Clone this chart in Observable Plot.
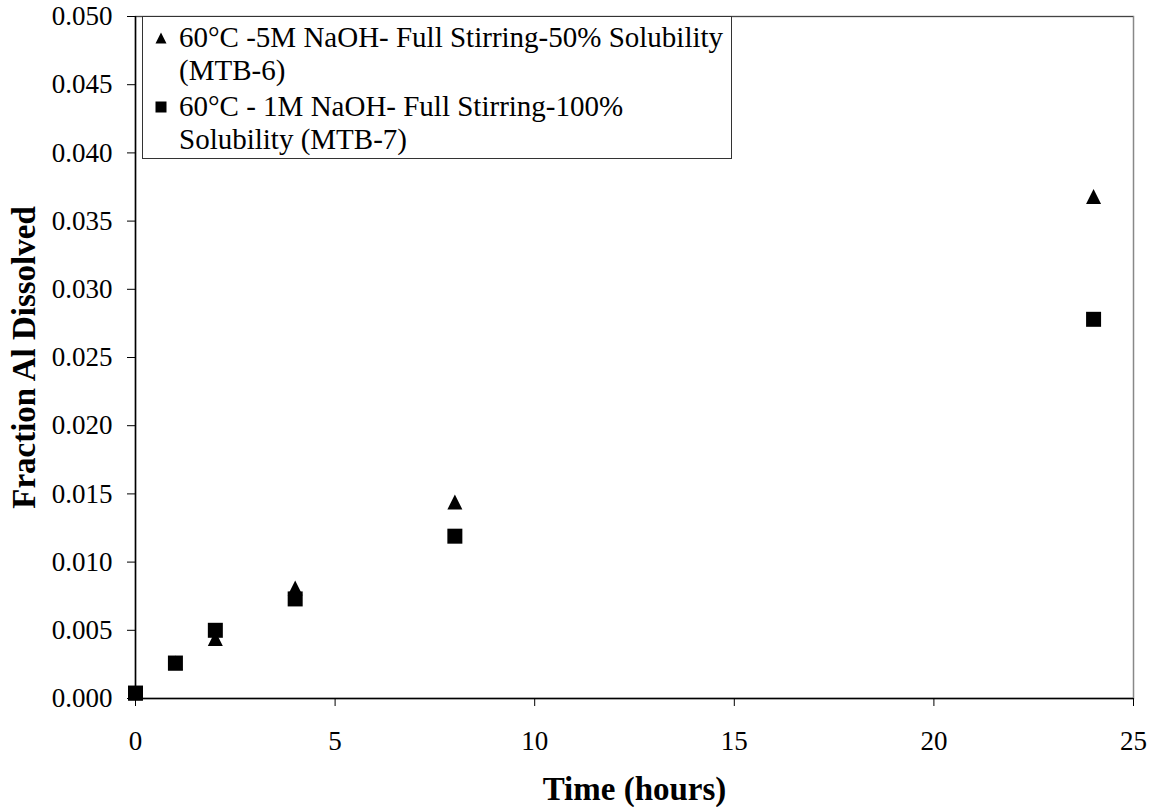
<!DOCTYPE html>
<html>
<head>
<meta charset="utf-8">
<script src="https://cdn.jsdelivr.net/npm/d3@7"></script>
<script src="https://cdn.jsdelivr.net/npm/@observablehq/plot@0.6"></script>
<style>
  html, body { margin: 0; padding: 0; background: #fff; }
  #wrap { position: relative; width: 1152px; height: 807px; font-family: "Liberation Serif", "Times New Roman", serif; }
  #legend {
    position: absolute; left: 142px; top: 16px; width: 590px; height: 143px;
    border: 1px solid #333; background: #fff; box-sizing: border-box;
    font-size: 29px; color: #000; padding-top: 4px;
  }
  .entry { position: relative; padding-left: 36px; line-height: 33px; margin-bottom: 3px; }
  .entry svg { position: absolute; left: 11px; top: 10px; }
</style>
</head>
<body>
<div id="wrap"></div>
<script>
const times = [0, 1, 2, 4, 8, 24];
const mtb6 = [0.0004, 0.0026, 0.0044, 0.0081, 0.0144, 0.0368];
const mtb7 = [0.0004, 0.0026, 0.0050, 0.0073, 0.0119, 0.0278];
const seriesNames = [
  "60°C -5M NaOH- Full Stirring-50% Solubility (MTB-6)",
  "60°C - 1M NaOH- Full Stirring-100% Solubility (MTB-7)"
];
const legendLines = [
  ["60°C -5M NaOH- Full Stirring-50% Solubility", "(MTB-6)"],
  ["60°C - 1M NaOH- Full Stirring-100%", "Solubility (MTB-7)"]
];
const xTicks = [0, 5, 10, 15, 20, 25];
const yTicks = [0.000, 0.005, 0.010, 0.015, 0.020, 0.025, 0.030, 0.035, 0.040, 0.045, 0.050];
const xLabel = "Time (hours)";
const yLabel = "Fraction Al Dissolved";

const tri = { draw(c, size) { const h = Math.sqrt(size) / 2; c.moveTo(0, -h); c.lineTo(h, h); c.lineTo(-h, h); c.closePath(); } };
const sq = { draw(c, size) { const h = Math.sqrt(size) / 2; c.rect(-h, -h, 2 * h, 2 * h); } };

const d6 = times.map((t, i) => ({ t, v: mtb6[i], s: seriesNames[0] }));
const d7 = times.map((t, i) => ({ t, v: mtb7[i], s: seriesNames[1] }));
const R = 15 / Math.sqrt(Math.PI);
const font = "Liberation Serif, Times New Roman, serif";

const chart = Plot.plot({
  width: 1152, height: 807,
  marginLeft: 135, marginRight: 19, marginTop: 16, marginBottom: 109,
  style: { fontFamily: font, fontSize: "27px", color: "#000", background: "#fff", overflow: "visible" },
  x: { domain: [0, 25] },
  y: { domain: [0, 0.05] },
  marks: [
    Plot.frame({ stroke: "#888", strokeWidth: 1.5 }),
    Plot.ruleY([0.05], { stroke: "#444", strokeWidth: 1 }),
    Plot.axisX({ ticks: xTicks, tickSize: 8, tickPadding: 24, fontSize: 27, label: null, tickFormat: d3.format("d") }),
    Plot.axisY({ ticks: yTicks, tickSize: 8, tickPadding: 15, fontSize: 27, label: null, tickFormat: d3.format(".3f") }),
    Plot.ruleX([0], { stroke: "#000", strokeWidth: 1.5 }),
    Plot.ruleY([0], { stroke: "#000", strokeWidth: 1.5 }),
    Plot.dot(d6, { x: "t", y: "v", symbol: tri, r: R, fill: "#000", stroke: "none" }),
    Plot.dot(d7, { x: "t", y: "v", symbol: sq, r: R, fill: "#000", stroke: "none" }),
    Plot.text([xLabel], { frameAnchor: "bottom", dy: 91, fontSize: 33, fontWeight: "bold", fill: "#000", lineAnchor: "middle", textAnchor: "middle" }),
    Plot.text([yLabel], { frameAnchor: "left", dx: -111, rotate: -90, fontSize: 33, fontWeight: "bold", fill: "#000", lineAnchor: "middle", textAnchor: "middle" })
  ]
});

const wrap = document.getElementById("wrap");
wrap.appendChild(chart);

const legend = document.createElement("div");
legend.id = "legend";
const icons = [
  '<svg width="14" height="14" viewBox="0 0 14 14"><path d="M7 1.5L12.5 12.5H1.5Z" fill="#000"/></svg>',
  '<svg width="14" height="14" viewBox="0 0 14 14"><rect x="1.5" y="1.5" width="11" height="11" fill="#000"/></svg>'
];
legendLines.forEach((lines, i) => {
  const e = document.createElement("div");
  e.className = "entry";
  e.innerHTML = icons[i] + lines.map(l => "<div>" + l + "</div>").join("");
  legend.appendChild(e);
});
wrap.appendChild(legend);
</script>
</body>
</html>
